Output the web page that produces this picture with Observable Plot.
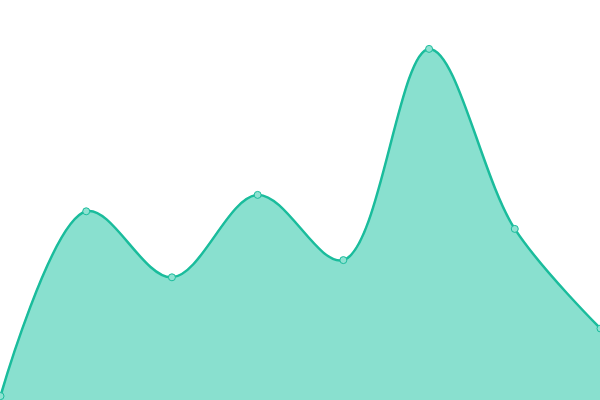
<!DOCTYPE html>
<html>
<head>
<meta charset="utf-8">
<script src="https://cdn.jsdelivr.net/npm/d3@7"></script>
<script src="https://cdn.jsdelivr.net/npm/@observablehq/plot@0.6"></script>
<style>
  html, body { margin: 0; padding: 0; background: #fff; }
  #chart svg { display: block; }
</style>
</head>
<body>
<div id="chart"></div>
<script>
const categories = [0, 1, 2, 3, 4, 5, 6, 7];
const values = [1.1, 47.3, 30.8, 51.4, 35.1, 87.9, 42.9, 18];

const data = categories.map((c, i) => ({x: c, y: values[i]}));

const chart = Plot.plot({
  width: 600,
  height: 400,
  margin: 0,
  x: {domain: [0, 7], axis: null},
  y: {domain: [0, 100], axis: null},
  marks: [
    Plot.areaY(data, {x: "x", y: "y", curve: "catmull-rom", fill: "#89e0cf"}),
    Plot.lineY(data, {x: "x", y: "y", curve: "catmull-rom", stroke: "#1abc9c", strokeWidth: 2.5}),
    Plot.dot(data, {x: "x", y: "y", r: 3.5, fill: "#8fe2d2", stroke: "#1abc9c", strokeWidth: 1})
  ]
});
document.getElementById("chart").append(chart);
</script>
</body>
</html>
